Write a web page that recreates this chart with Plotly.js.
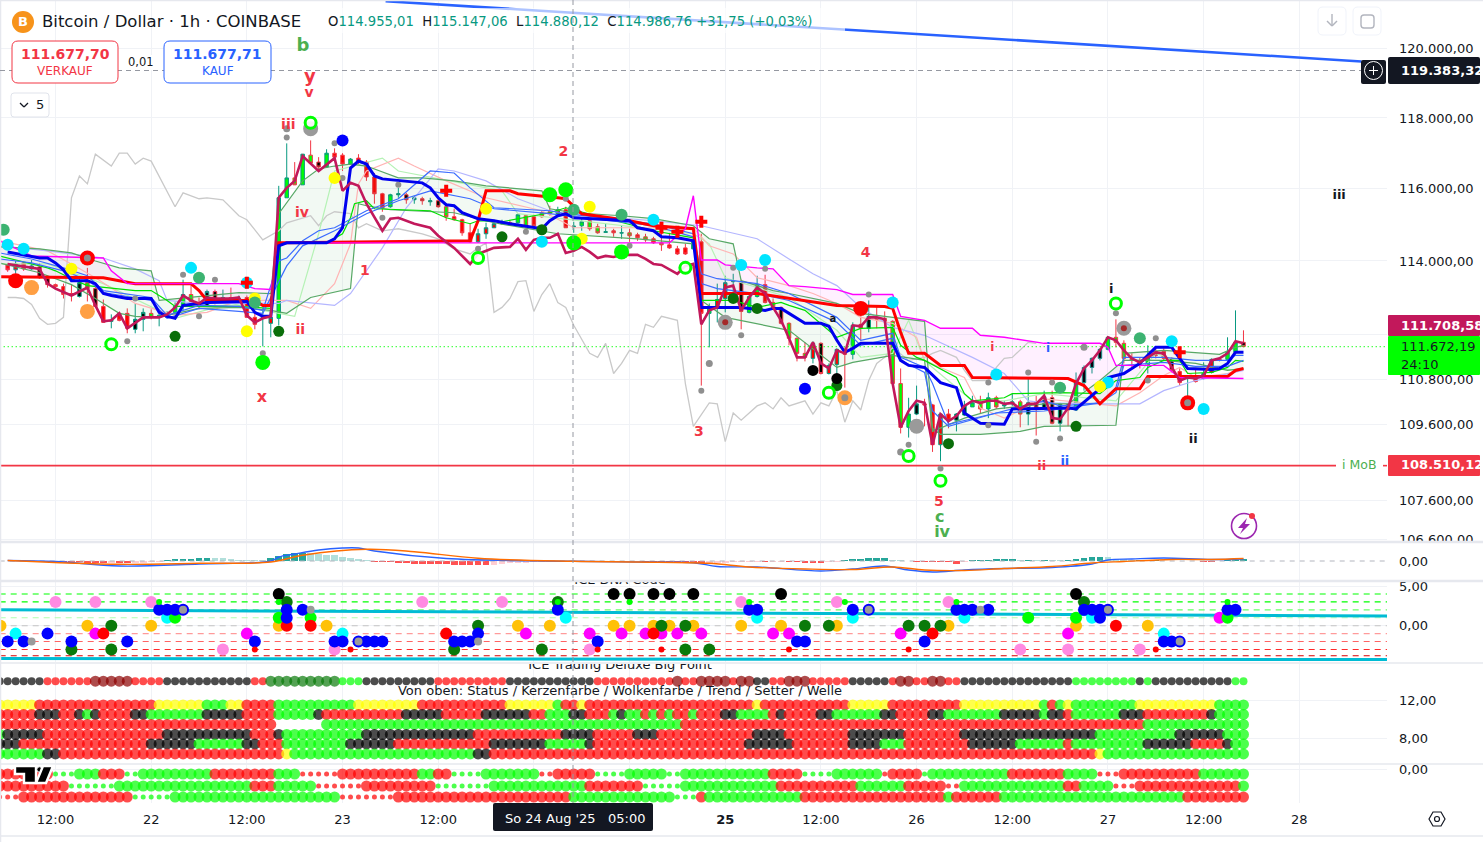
<!DOCTYPE html>
<html><head><meta charset="utf-8">
<script src="https://cdn.plot.ly/plotly-3.0.1.min.js"></script>
<style>html,body{margin:0;padding:0;background:#fff;overflow:hidden}#c{width:1483px;height:842px}</style>
</head><body><div id="c"></div>
<script>
// ---------- candles: hours since 21 Aug 00:00 (first bar = 6) ----------
const opens=[113892,113757,113946,113784,113838,113514,113352,113298,113109,113028,113406,113244,112758,112353,112569,112569,112137,112407,112569,112488,112461,112596,112785,113082,112866,112785,113163,112947,113001,112947,113001,112461,112434,112299,112434,115751,116307,116113,116947,116752,116613,117002,116947,116697,116864,116752,116335,115863,115501,115835,115835,115696,115724,115640,115668,115501,115223,115140,114778,114528,114751,114917,115029,115056,115056,115251,115223,115334,115362,115307,115418,114945,114973,115112,114945,114790,114834,114770,114778,114723,114667,114612,114500,114445,114334,114361,114334,114528,112569,112758,112974,113433,113433,112596,113028,113352,112866,112731,112299,111894,111489,111354,111759,110949,111192,111516,111462,112272,112164,112461,112434,112353,110679,109518,109869,110139,110112,109059,109869,109707,109842,110058,110166,110004,110301,110085,110139,110193,109869,110166,110031,110301,109626,110139,109977,110706,111111,111354,111597,111921,111759,111354,111300,111165,111543,111543,111354,111003,110814,110814,110814,110976,111327,111327,111516,111786];
const highs=[113946,114000,113973,114028,113946,113595,113379,113379,113352,113595,113811,113298,112947,112542,112596,112704,112839,112704,112677,112596,112623,112866,113487,113352,113001,113217,113217,113217,113271,113055,113055,112569,112704,112704,116085,117280,116752,116975,117364,116891,117114,117141,117002,116864,116975,116808,116446,115890,115863,116029,115890,115807,115779,115751,115724,115585,115446,115168,115029,114890,115056,115140,115140,115112,115307,115279,115279,115390,115529,115501,115501,115084,115195,115168,115029,115029,114890,114973,114890,114778,114751,114667,114778,114778,114417,114473,114639,114751,112839,113379,113595,113649,113487,113082,113595,113622,112974,112758,112326,111921,111786,111813,111786,111219,111624,111651,112326,112515,112920,112758,112623,112380,111084,110301,110625,110274,110139,109896,110004,109896,110220,110355,110355,110436,110355,110220,110409,110247,110814,110355,110490,110490,110166,110166,110976,111165,111381,111624,111948,112407,111840,111489,111381,111705,111624,111624,111381,111084,110841,111111,111246,111354,111381,111921,112650,112110];
const lows=[113703,113649,113730,113757,113514,113271,113244,112974,112893,113001,112893,112731,112326,112164,112353,112029,112029,112083,112407,112218,112434,112461,112650,112812,112677,112785,112812,112920,112893,112920,112461,112137,111678,111921,112245,115751,116113,116113,116724,116502,116585,116780,116502,116697,116697,116224,115585,115362,115473,115751,115585,115585,115557,115529,115473,115112,115112,114695,114500,114500,114612,114917,115001,114973,115029,114917,114945,115195,115251,115279,114917,114778,114834,114834,114751,114778,114667,114612,114528,114556,114528,114473,114278,114334,114167,114167,114334,110625,111651,112326,112596,113109,112137,112569,113001,112839,112704,112272,111705,111273,111273,111219,110922,110922,110949,110571,111327,111840,112056,112164,112164,110652,109356,109248,109842,109545,108870,108627,109491,109410,109815,110058,109896,109761,110004,110004,110085,109518,109572,109302,110004,109599,109410,109545,109950,110490,110949,111300,111570,111651,111219,111111,111084,110949,111354,111300,110976,110625,110328,110706,110787,110949,111273,111300,111489,111651];
const closes=[113757,113919,113784,113865,113541,113352,113298,113082,113055,113406,113244,112758,112326,112380,112380,112164,112407,112596,112461,112515,112596,112758,113082,112893,112785,113163,112947,113001,112947,112974,112461,112272,112461,112461,115751,116307,116113,116975,116724,116613,117002,116891,116697,116836,116752,116335,115863,115473,115835,115863,115696,115751,115668,115668,115501,115223,115140,114778,114528,114751,114917,115029,115056,115029,115279,114945,114973,115223,115307,115418,114917,114960,115084,114890,114778,114806,114778,114778,114695,114639,114584,114500,114445,114361,114195,114195,114528,112569,112731,112947,113406,113460,112623,113028,113352,112866,112731,112299,111894,111489,111381,111759,110949,111165,111597,111462,112245,112164,112488,112407,112353,110679,109518,109869,110139,110112,109059,109869,109707,109869,110085,110166,110004,110301,110058,110112,110193,109869,110166,110031,110328,109626,110139,109977,110706,111111,111354,111597,111921,111786,111354,111300,111165,111381,111435,111354,111030,110706,110841,110733,110949,111327,111300,111516,111786,111672];
const bodyFill="rrrrkkrrrkgkrgrrkkggggggkkkkkkrrrrgggggkgrrgrrrrgkkkkrkgrrrrrrkkggrgkrrggggkrrgrgrgrrrgrgrrrkggrgkgggrkrrrgkkgggggkrrrrkkgggggggkkkkkkgkkkggggggkrkrrrrrrggkrggg"; // 'g' green, 'r' red, 'k' black body

// ---------- overlay lines: hours and prices ----------
const chikouH=[6,7,8,9,10,11,12,13,14,15,16,17,19,20,21,22,23,24,27,28,30,31,33,35,36,38,40,41,44,45,46,47,49,50,51,53,55,58,60,62,64,65,66,67,68,69,70,71,72,73,74,75,76,77,79,80,81,82,83,84,85,86,87,88,90,91,92,94,95,96,97,98,100,101,102,103,104,106,107,108,109,110,111,112,113,114,115,116,117,119,121,122,123,125,126,127,129,130,131,132,134,135];
const chikouP=[113001,113001,112974,112812,112434,112272,112299,112461,115751,116363,116141,116975,116641,117002,117002,116697,116863,116780,115501,115890,115724,115751,115696,115251,115140,114584,114834,115056,115251,114973,115251,115362,115307,114917,115029,114834,114890,114751,114612,114334,114195,114361,114500,112596,112731,112974,113433,113460,112623,113082,113379,112866,112731,112245,111489,111381,111759,110949,111219,111570,111489,112272,112191,112488,112380,110679,109545,110166,110139,109140,109896,109707,110085,110166,110004,110301,110085,110220,109869,110166,110085,110490,109653,110220,109977,110760,111219,111381,111651,111300,111381,111489,111570,111381,111030,110760,110760,111111,111354,111381,111786,111759];
const crimsonH=[6,10,11,12,14,16,17,18,19,20,21,23,24,25,26,27,28,29,30,31,32,34,35,36,37,38,39,40,41,42,43,45,47,48,49,50,51,53,54,55,57,59,60,62,64,65,67,69,70,71,72,73,74,75,76,77,78,79,80,81,82,83,85,86,87,88,90,91,92,93,94,95,96,97,98,99,100,101,102,103,104,105,106,107,108,109,110,111,112,113,114,115,116,117,118,119,120,121,122,123,124,125,126,127,128,129,130,131,132,133,134,135,136,137,138,139,140,141,142,143,144,145,146,147,148,149,150,151,152,153,154,155,156,157,158,159,160,161];
const crimsonP=[113919,113784,113379,113244,113055,113271,112785,112353,112380,112569,112164,112461,112461,112461,112542,112731,113055,112920,112839,113001,112974,112974,113001,112515,112326,112434,112488,115751,116029,116224,116919,116502,116863,115946,116168,116085,115585,114834,115168,115195,115029,114917,114695,114361,113919,114195,114361,114389,114612,114306,114584,114639,114639,114751,114222,114278,114389,114250,114083,114139,114111,114167,114167,114056,113919,113892,113649,113865,113919,112272,112650,112731,113271,113325,112650,113001,113271,113109,112731,112380,111894,111381,111381,111786,111219,111084,111570,111489,112245,112218,112461,112461,112407,110679,109518,109950,110220,110166,109059,109869,109680,109815,110085,110220,110166,110220,110220,110139,110166,110004,110139,110139,110355,109761,109734,110031,110679,111084,111300,111570,111921,111840,111570,111354,111246,111381,111516,111489,111111,110760,110841,110814,110895,111300,111354,111489,111813,111759];
const thickBlueH=[6,10,11,12,13,14,16,17,18,19,21,24,25,26,27,28,31,35,36,37,38,39,40,41,46,47,48,49,50,51,52,53,58,59,60,61,62,63,65,67,69,73,74,75,76,77,84,85,87,88,90,92,93,98,101,102,103,104,106,108,109,110,111,112,113,117,118,119,121,123,125,126,128,131,132,139,140,143,144,146,148,150,152,153,154,157,158,159,160,161];
const thickBlueP=[114250,114083,114083,113946,113757,113460,113460,113379,113109,113055,112974,112974,112596,112488,112434,112785,112866,112893,112893,112596,112488,112488,114417,114500,114500,114612,114917,116585,116780,116697,116363,116280,116168,116029,115751,115557,115529,115334,115168,115112,115029,114890,115112,115251,115307,115195,115112,114917,114834,114667,114639,114556,112731,112731,112650,112704,112704,112569,112299,112299,112218,111840,111516,111624,111759,111759,111300,111165,111111,110706,110571,109896,109626,109599,110004,110031,110004,110544,110841,110949,111219,111651,111651,111354,111084,111057,111084,111219,111516,111516];
const thickRedH=[5,18,20,22,29,30,31,37,38,39,40,41,64,65,66,69,70,73,75,76,77,78,84,87,92,93,100,104,110,116,117,118,119,121,123,126,127,139,141,143,145,148,149,159,160,161];
const thickRedP=[113568,113541,113460,113379,113379,113190,112920,112920,112785,112785,114500,114500,114556,115112,115946,115946,115863,115807,115751,115724,115529,115307,115112,114973,114890,113109,113109,112974,112785,112758,112704,112056,111489,111489,111165,111165,110841,110814,110625,110139,110544,110544,110868,110868,111030,111084];
const magentaH=[5,9,18,19,21,35,37,39,40,41,89,91,92,93,95,96,100,102,104,106,110,112,117,118,121,123,127,128,131,136,143,144,145,151,153,161];
const magentaP=[114556,114139,114083,113730,113379,113379,113244,113217,114417,114500,114500,114890,115807,114028,114028,113892,113811,113784,113325,113298,113217,113082,113082,112488,112380,112164,112164,111975,111921,111759,111759,111651,111165,111165,110841,110814];
const cloudAH=[5,10,14,17,20,24,25,35,39,40,43,45,47,49,51,55,58,62,66,70,73,74,77,83,87,92,94,97,98,102,104,110,113,121,122,123,128,133,136,145,146,151,158,160,161];
const cloudAP=[114389,114334,114222,114000,113811,113730,112920,113136,113109,115307,116224,116558,116641,116697,116641,116307,116307,116224,116085,116002,115946,115446,115334,115251,115168,114973,114612,114473,113460,113190,113109,112839,112569,112353,109491,109329,109329,109410,109545,109572,111489,111570,111462,111651,111705];
const cloudBH=[5,10,14,17,20,22,24,26,30,35,39,41,44,49,50,51,54,62,67,75,85,92,93,96,104,110,112,117,121,122,126,130,136,139,143,145,146,151,155,159,161];
const cloudBP=[113946,113676,113352,112974,112569,112488,112461,112515,112704,112731,112650,112569,113001,113244,115585,115529,115418,115334,115056,114751,114612,114473,112920,112461,112110,111111,111246,111435,111300,109410,109761,110004,110139,110139,110760,111111,111300,111300,111219,111030,111084];
const brightH=[5,11,12,14,16,22,24,26,27,35,39,40,46,48,49,49.5,51,52,59,61,64,65,68,74,76,87,92,93,97,100,103,104,106,110,113,117,118,120,121,125,126,127,131,132,138,143,145,148,149,151,153,154,157,159,160,161];
const brightP=[114139,113811,113730,113514,113325,113190,113190,112920,112758,112758,112704,114500,114500,114751,115195,115585,115668,115446,115390,115195,115029,115112,115084,115334,115473,114834,114639,112920,112920,112731,112866,112785,112650,111921,112164,112191,111705,111381,111300,110841,110409,110220,110301,110409,110436,110409,110760,110841,111111,111300,111300,110949,110976,111111,111300,111273];
const blueOneH=[5,9,13,16,18,24,26,30,35,38,40,41,43,45,47,51,55,59,62,64,67,70,74,76,87,92,93,95,100,104,110,113,117,118,121,122,123,124,130,136,138,143,145,146,151,155,159,160,161];
const blueOneP=[114222,114056,113811,113595,113190,113001,112515,112785,112758,112650,114000,114083,114556,114834,114917,115390,115724,116502,116446,116029,115473,115446,115390,115307,115029,114751,113649,113514,113379,113109,112461,111840,112029,111381,111111,110679,110139,109599,109896,110220,110085,110166,110571,111381,111381,111300,111300,111435,111435];
const blueTwoH=[5,9,13,16,18,24,26,30,35,38,41,43,47,51,55,59,64,67,74,76,87,92,93,95,100,104,110,113,117,118,121,122,124,130,136,138,143,145,146,151,155,159,161];
const blueTwoP=[114056,113946,113730,113487,113136,112920,112434,112704,112623,112569,113865,114417,114834,115307,115668,115946,115724,115446,115307,115251,114973,114667,113379,113244,113109,112920,112326,111705,111894,111300,110976,109950,109545,109896,109950,110004,110166,110436,111165,111246,111138,111138,111300];
const lavenderH=[5,11,18,22,25,26,30,40,41,47,49,53,56,60,62,66,70,74,76,87,93,100,104,107,110,113,117,121,127,131,134,136,143,148,151,155,161];
const lavenderP=[114417,114278,114083,113784,113460,112920,112839,112839,112920,112785,113109,114361,115473,116558,116502,116224,115724,115390,115307,115112,114973,114612,114056,113649,113325,112731,112191,111975,111381,110949,110220,110166,110139,110139,110490,110760,111030];
const salmonH=[5,11,14,17,22,27,31,34,38,41,44,47,49,50,51,55,57,61,66,73,77,92,94,97,100,104,107,110,113,117,120,121,123,126,128,131,136,145,148,151,153,155,159,161];
const salmonP=[114556,114278,113919,113541,112839,112515,112596,112839,112920,112920,112704,113379,114473,116141,116502,116863,116641,116224,115751,115390,114917,114917,114417,114195,113541,113325,113109,112839,112461,112299,111921,111300,111111,110841,110031,109761,110274,110085,110436,110895,111111,110841,110949,111084];
const paleGreenH=[5,11,18,27,34,38,42,45,47,53,55,68,70,92,94,96,104,110,113,117,119,121,122,127,131,136,145,150,155,161];
const paleGreenP=[113919,113919,113379,112434,112839,112650,112488,114751,116502,116863,116502,115946,115307,114751,114473,113541,113001,112110,111381,111489,112380,111300,111111,110220,110220,110409,110220,111489,111111,111030];
const trendH=[53.4,175.8], trendP=[121370,119620];
const lastPrice=111672.19, mobPrice=108510.12;

// ---------- markers of the main pane ----------
const cyanH=[6,8,29,36,73,87,98,101,117,130,144,152,156];
const cyanP=[114445,114334,113811,113406,114528,115140,113892,114028,112866,110922,110706,111813,110004];
const yellowH=[14,36,37,47,66,79,78,143];
const yellowP=[113784,112083,112974,116307,115446,115501,114612,110598];
const orangeH=[9,16,111], orangeP=[113271,112623,110301];
const redDotH=[7,16,113,154], redDotP=[113460,114083,112704,110166];
const limeH=[38,74,76,77,83], limeP=[111246,115835,115974,114500,114250];
const darkGreenH=[27,40,68,73,97,100,110,124,140];
const darkGreenP=[111948,112083,114667,114862,112974,112704,110625,109086,109545];
const seaGreenH=[5.5,30,37,77,83,138,148];
const seaGreenP=[114862,113541,112866,115418,115279,110571,111894];
const blackDotH=[107,110], blackDotP=[111030,110814];
const blueDotH=[48,106], blueDotP=[117364,110544];
const ringH=[19,44,65,91,109,119,123,145];
const ringP=[111732,117864,114083,113811,110436,108762,108114,112839];
const grayH=[21,22,28,32,30,38,53,48,47,41,55,65,71,76,84,93,97,98,101,114,119,123,129,129,134,137,135,138,145,149,150];
const grayP=[111813,112974,113622,113487,112488,111489,115195,116307,117280,117447,116113,114334,114806,115724,114417,110490,113811,111975,113784,113082,109059,108438,110706,109572,110976,110706,109140,109221,112569,110760,111894];
const grayMidH=[94,118,141,41,16,154,111], grayMidP=[111219,108870,111651,117697,114083,110166,110301];
const grayBigH=[96,146,120,44], grayBigP=[112326,112164,109545,117697];
const brownH=[96,146], brownP=[112326,112164];
const plusH=[61,36,93,88,90,153], plusP=[115946,113406,115084,114917,114806,111516];

// ---------- wave labels ----------
const waveText=["b","y","v","iii","iv","ii","1","x","2","3","4","5","c","iv","i","i","ii","ii","i","ii","iii","a"];
const waveH=[43.04,43.9,43.8,41.2,42.9,42.7,50.8,37.9,75.7,92.7,113.6,122.8,122.9,123.2,129.5,136.5,135.7,138.6,144.4,154.7,173,109.5];
const waveP=[120066,119172,118685,117800,115300,112118,113698,110294,117036,109393,114220,107563,107149,106762,111633,111600,108474,108607,113206,109183,115801,112416];
const waveColor=["#4caf50","#f23645","#f23645","#f23645","#f23645","#f23645","#f23645","#f23645","#f23645","#f23645","#f23645","#f23645","#4caf50","#4caf50","#f23645","#2962ff","#f23645","#2962ff","#131722","#131722","#131722","#131722"];
const waveSize=[18,18,14,14,14,14,14,16,14,14,14,14,16,16,12,12,13,13,13,13,13,10];

// ---------- MACD pane ----------
const histValues=[10,8,5,2,-5,-10,-15,-20,-25,-25,-30,-40,-40,-38,-42,-45,-40,-30,-25,-10,30,45,45,50,55,65,60,55,35,30,25,20,15,60,100,140,160,170,165,150,130,120,85,65,45,30,-10,-20,-25,-35,-45,-50,-55,-55,-60,-65,-70,-75,-80,-85,-85,-70,-60,-45,-35,-30,-25,-20,-15,-12,-10,-8,-5,-5,-8,-10,-8,-6,-6,-8,-10,-12,-15,-15,-20,-30,-40,-50,-45,-40,-30,-25,-20,-18,-15,-15,-12,-10,-20,-25,-30,-35,-40,-25,-10,30,40,50,55,60,65,25,15,10,-10,-15,-18,-20,-25,-50,-20,15,20,25,40,42,45,20,30,15,25,20,18,25,45,60,80,90,85,50,40,20,20,15,15,10,10,8,5,-5,-10,-10,-5,15,25,35];
const macdH=[6,12,20,30,39,40,42,45,48,50,52,61,77,85,92,95,100,108,112,116,119,122,126,131,137,142,144,147,151,157,161];
const macdV=[10,-10,-100,-60,0,80,140,220,260,260,200,50,-6,-20,-34,-110,-120,-200,-160,-100,-180,-220,-180,-150,-130,-60,20,40,60,30,40];
const signalH=[6,20,30,39,43,51,57,65,77,85,94,99,106,112,117,121,126,131,137,142,146,152,157,161];
const signalV=[10,-66,-46,-20,114,234,186,54,-6,-20,-46,-120,-160,-170,-120,-180,-190,-150,-110,-40,-10,30,30,50];

// ---------- ICE DNA Code pane: hours per colour and level ----------
const dnaBlueH=[6,8,11,14,21,25,26,27,37,41,41,43,47,48,51,52,53,62,63,64,65,75,80,99,100,105,106,112,121,125,126,127,129,141,142,143,143,151,152,159,160];
const dnaBlueL=[-2,-2,-1,-2,-2,2,2,2,-2,2,1,2,-2,-2,-2,-2,-2,-2,-2,-2,-1,2,-2,2,2,-2,-2,2,-2,2,2,2,2,2,2,2,1,-2,-2,2,2];
const dnaRingH=[28,50,114,144,153], dnaRingL=[2,-2,2,2,-2];
const dnaGrayH=[9,44,65,128], dnaGrayL=[-2,2,-2,2];
const dnaGoldH=[5.1,16,24,40,46,70,74,82,84,87,89,92,98,103,110,124,140,149];
const dnaGoldL=[0,0,0,0,0,0,0,0,0,0,0,0,0,0,0,0,0,0];
const dnaPinkH=[12,17,24,33,47,58,68,79,98,110,124,133,139,148];
const dnaPinkL=[3,3,3,-3,-3,3,3,-3,3,3,3,-3,-3,-3];
const dnaMagentaH=[17,36,71,79,83,86,88,90,93,102,104,118,139,158];
const dnaMagentaL=[-1,-1,-1,-1,-1,-1,-1,-1,-1,-1,-1,-1,-1,1];
const dnaRedH=[18,41,44,61,87,122,145], dnaRedL=[-1,0,0,-1,-1,-1,0];
const dnaGreenH=[14,19,19,41,62,65,73,75,88,91,91,94,106,109,119,121,123,141];
const dnaGreenL=[-3,0,-3,3,-3,0,-3,3,0,0,-3,-3,0,0,0,0,0,3];
const dnaCyanH=[7,26,48,76,100,112,126,142,151], dnaCyanL=[-1,1,-1,1,1,1,1,1,-1];
const dnaLimeH=[27,40,44,134,140,159], dnaLimeL=[1,1,1,1,1,1];
const dnaBlackH=[40,82,84,87,89,92,103,140], dnaBlackL=[4,4,4,4,4,4,4,4];
const dnaTinyLimeH=[25,40,75,84,99,111,125,159], dnaTinyLimeL=[3,3,3,3,3,3,3,3];
const dnaTinyRedH=[37,49,80,88,104,119,150], dnaTinyRedL=[-3,-3,-3,-3,-3,-3,-3];
const dnaLevels=[4,3,2,1,0,-1,-2,-3,-3.8];
const dnaLevelColors=["#00ff00","#00ff00","#66ff66","#b0ffb0","#c4c4c4","#ff9a9a","#ff6464","#ff2a2a","#d80000"];
const dnaCyanTopH=[5,179], dnaCyanTopV=[2,1.23];
const dnaCyanLowH=[5,179], dnaCyanLowV=[-4.15,-4.28];

// ---------- Big Point rows: [colour code, last hour of the run] ----------
const rowStatus=[['k',10],['r',16],['m',21],['r',25],['k',36],['r',38],['d',47],['g',50],['k',59],['r',68],['k',79],['r',89],['m',90],['r',92],['m',96],['r',97],['m',99],['k',101],['r',103],['m',106],['r',111],['k',116],['r',117],['m',119],['r',121],['m',123],['r',125],['k',139],['g',147],['k',148],['g',149],['k',159],['g',161]];
const rowOne=[['y',9],['r',24],['y',30],['g',33],['y',35],['r',39],['g',49],['y',57],['r',68],['y',74],['g',75],['r',77],['y',78],['r',99],['y',100],['r',111],['y',116],['r',125],['y',135],['g',136],['r',137],['g',138],['y',139],['g',147],['y',157],['g',161]];
const rowTwo=[['r',9],['k',12],['r',14],['k',15],['g',16],['k',17],['r',21],['k',23],['g',30],['k',35],['r',39],['g',44],['k',45],['r',55],['k',60],['r',65],['k',71],['r',73],['g',76],['k',78],['r',81],['g',82],['k',83],['g',85],['r',86],['g',87],['r',88],['g',89],['r',91],['g',92],['r',95],['k',97],['g',101],['r',102],['k',103],['r',107],['k',109],['g',115],['k',117],['r',121],['k',123],['g',130],['k',135],['g',136],['k',138],['r',139],['g',145],['k',148],['r',156],['k',157],['g',161]];
const rowThree=[['r',39],['w',45],['g',90],['r',148],['g',161]];
const rowFour=[['g',5],['k',10],['r',25],['k',36],['r',39],['k',40],['g',50],['k',64],['r',75],['k',79],['r',84],['k',87],['r',99],['k',103],['r',111],['k',118],['r',125],['k',142],['g',152],['k',158],['g',161]];
const rowFive=[['k',7],['r',23],['k',29],['g',35],['k',37],['r',40],['g',48],['k',54],['r',66],['k',73],['g',78],['k',79],['r',98],['k',104],['r',111],['k',115],['g',118],['r',126],['k',132],['g',138],['r',139],['g',148],['k',154],['r',158],['k',159],['g',161]];
const rowSix=[['g',10],['k',12],['r',40],['y',41],['g',64],['k',66],['r',142],['y',143],['g',161]];
const rowLevels=[14,11.5,10.5,9.45,8.4,7.4,6.35];
const lowerA=[['r',11],['s',14],['g',17],['r',20],['s',22],['g',31],['r',39],['g',42],['t',47],['r',57],['g',59],['r',61],['s',65],['g',72],['t',74],['r',79],['s',83],['g',88],['s',90],['g',101],['r',105],['s',109],['g',115],['t',116],['r',120],['s',121],['g',131],['r',138],['g',142],['t',145],['r',155],['g',161]];
const lowerB=[['r',13],['s',19],['g',36],['r',39],['g',44],['t',50],['r',59],['s',66],['g',78],['r',85],['s',90],['g',102],['r',112],['g',118],['r',123],['t',125],['g',138],['r',140],['g',144],['t',147],['r',160],['g',161]];
const lowerC=[['t',7],['r',21],['s',26],['g',47],['t',54],['r',76],['g',89],['s',92],['r',93],['g',105],['r',123],['g',124],['r',130],['g',153],['r',161]];
const lowerLevels=[-0.5,-1.7,-2.8];

// ---------- axis ticks ----------
const priceTicks=[120000,118000,116000,114000,112000,110800,109600,107600,106600];
const priceTickText=["120.000,00","118.000,00","116.000,00","114.000,00","112.000,00","110.800,00","109.600,00","107.600,00","106.600,00"];
const timeTicks=[12,24,36,48,60,72,84,96,108,120,132,144,156,168];
const timeTickText=["12:00","22","12:00","23","12:00","24","12:00","<b>25</b>","12:00","26","12:00","27","12:00","28"];

// ---------- drawing helpers ----------
const W=1483,H=842,FONT='"DejaVu Sans",sans-serif',INK='#131722',GRID='#f0f2f6';
const X=p=>p/W, Y=p=>1-p/H;
const hourOf=p=>12+(p-55.5)/7.973;
const logAt=y=>Math.log10(120000)-(y-48.3)/4146.6/Math.LN10;
const traces=[];
const line=(x,y,color,width,extra={})=>traces.push(Object.assign({type:'scatter',mode:'lines',x,y,line:{color,width},hoverinfo:'skip'},extra));
const dots=(x,y,color,size,extra={},ya='y')=>traces.push(Object.assign({type:'scatter',mode:'markers',x,y,yaxis:ya,marker:{color,size,line:{width:0}},hoverinfo:'skip'},extra));
const fillBetween=(xa,ya,xb,yb,from,to,color)=>{
  const cut=(xs,ys)=>{const i=xs.map((h,k)=>k).filter(k=>xs[k]>=from&&xs[k]<=to);return [i.map(k=>xs[k]),i.map(k=>ys[k])];};
  const [x1,y1]=cut(xa,ya),[x2,y2]=cut(xb,yb);
  traces.push({type:'scatter',mode:'lines',x:x1,y:y1,line:{width:0},hoverinfo:'skip'});
  traces.push({type:'scatter',mode:'lines',x:x2,y:y2,line:{width:0},fill:'tonexty',fillcolor:color,hoverinfo:'skip'});
};

// cloud and fills
fillBetween(magentaH,magentaP,thickRedH,thickRedP,5,39,'rgba(255,0,255,0.06)');
fillBetween(magentaH,magentaP,thickRedH,thickRedP,92,161,'rgba(255,0,255,0.06)');
fillBetween(cloudAH,cloudAP,cloudBH,cloudBP,5,161,'rgba(76,175,80,0.07)');

// thin lines
line(chikouH,chikouP,'#c9c9c9',1.3);
line(paleGreenH,paleGreenP,'#b5f2b5',1.2);
line(salmonH,salmonP,'#ffb4b4',1.2);
line(lavenderH,lavenderP,'#b4b6ff',1.2);
line(cloudAH,cloudAP,'#58a866',1.2);
line(cloudBH,cloudBP,'#58a866',1.2);
line(brightH,brightP,'#00e000',1.2);
line(blueOneH,blueOneP,'#3b6cff',1.2);
line(blueTwoH,blueTwoP,'#3b6cff',1.2);
line(trendH,trendP,'#2962ff',2.6);
line([5,179],[lastPrice,lastPrice],'#00ff00',1.2,{line:{color:'#00ff00',width:1.3,dash:'1px,3px'}});
line([5,hourOf(1336)],[mobPrice,mobPrice],'#f23645',1.6);
line([hourOf(1383),179],[mobPrice,mobPrice],'#f23645',1.6);
line(thickRedH,thickRedP,'#ff0000',3);
line(magentaH,magentaP,'#ff00ff',1.4);
line(thickBlueH,thickBlueP,'#0000ee',3);
line(crimsonH,crimsonP,'#c2185b',2.6);

// candles, one trace per body colour
const barHours=opens.map((_,i)=>i+6);
for(const [code,color] of [['g','#00ff00'],['r','#ff0000'],['k','#000000']]){
  const pick=a=>a.map((v,i)=>bodyFill[i]===code?v:null);
  traces.push({type:'candlestick',x:barHours,open:pick(opens),high:pick(highs),low:pick(lows),close:pick(closes),
    increasing:{line:{color:'#089981',width:1},fillcolor:color},
    decreasing:{line:{color:'#f23645',width:1},fillcolor:color},
    hoverinfo:'skip',showlegend:false});
}

// markers
dots(grayBigH,grayBigP,'#9a9a9a',15);
dots(brownH,brownP,'#a52a2a',6);
dots(orangeH,orangeP,'#ff9f43',15);
dots(redDotH,redDotP,'#ff0000',15);
dots(grayMidH,grayMidP,'#8f8f8f',7);
dots(grayH,grayP,'#8f8f8f',6);
dots(cyanH,cyanP,'#00e5ff',12);
dots(yellowH,yellowP,'#ffff00',12);
dots(seaGreenH,seaGreenP,'#3cb371',12);
dots(darkGreenH,darkGreenP,'#0a6e0a',11);
dots(limeH,limeP,'#00ff00',15);
dots(blackDotH,blackDotP,'#000000',11);
dots(blueDotH,blueDotP,'#0000ff',12);
traces.push({type:'scatter',mode:'markers',x:ringH,y:ringP,marker:{color:'rgba(255,255,255,0.9)',size:11,line:{color:'#00ff00',width:3}},hoverinfo:'skip'});
traces.push({type:'scatter',mode:'markers',x:plusH,y:plusP,marker:{symbol:'cross',color:'#ff0000',size:10,line:{width:0}},hoverinfo:'skip'});
traces.push({type:'scatter',mode:'text',x:waveH,y:waveP,text:waveText.map(t=>'<b>'+t+'</b>'),textfont:{color:waveColor,size:waveSize,family:FONT},textposition:'middle center',hoverinfo:'skip'});

// MACD
const histColors=histValues.map((v,i)=>{const p=i?histValues[i-1]:0;return v>=0?(v>=p?'#26a69a':'#b2dfdb'):(v<=p?'#ff5252':'#ffcdd2');});
traces.push({type:'bar',x:barHours,y:histValues,yaxis:'y2',marker:{color:histColors,line:{width:0}},width:0.85,hoverinfo:'skip'});
line([5,179],[0,0],'#b2b5be',1,{yaxis:'y2',line:{color:'#b2b5be',width:1,dash:'5px,5px'}});
line(macdH,macdV,'#2962ff',1.4,{yaxis:'y2',line:{color:'#2962ff',width:1.4,shape:'spline'}});
line(signalH,signalV,'#ff6d00',1.4,{yaxis:'y2',line:{color:'#ff6d00',width:1.4,shape:'spline'}});

// DNA pane
dnaLevels.forEach((lv,i)=>line([5,179],[lv,lv],dnaLevelColors[i],1,{yaxis:'y3',line:{color:dnaLevelColors[i],width:1.1,dash:'6px,5px'}}));
line(dnaCyanTopH,dnaCyanTopV,'#00bcd4',3,{yaxis:'y3'});
line(dnaCyanLowH,dnaCyanLowV,'#00bcd4',3,{yaxis:'y3'});
dots(dnaGoldH,dnaGoldL,'#ffc107',12,{},'y3');
dots(dnaPinkH,dnaPinkL,'#ff8ae2',12,{},'y3');
dots(dnaMagentaH,dnaMagentaL,'#ff00ff',12,{},'y3');
dots(dnaGreenH,dnaGreenL,'#0a7a0a',12,{},'y3');
dots(dnaCyanH,dnaCyanL,'#00ffff',12,{},'y3');
dots(dnaLimeH,dnaLimeL,'#00ff00',12,{},'y3');
dots(dnaRedH,dnaRedL,'#ff0000',12,{},'y3');
dots(dnaBlueH,dnaBlueL,'#0000ff',12,{},'y3');
traces.push({type:'scatter',mode:'markers',x:dnaRingH,y:dnaRingL,yaxis:'y3',marker:{color:'#9a9a9a',size:10,line:{color:'#0000ff',width:2}},hoverinfo:'skip'});
dots(dnaGrayH,dnaGrayL,'#9a9a9a',8,{},'y3');
dots(dnaBlackH,dnaBlackL,'#000000',12,{},'y3');
dots(dnaTinyLimeH,dnaTinyLimeL,'#00ff00',6,{},'y3');
dots(dnaTinyRedH,dnaTinyRedL,'#ff0000',6,{},'y3');
traces.push({type:'scatter',mode:'text',x:[hourOf(620)],y:[5.65],yaxis:'y3',text:['ICE DNA Code'],textposition:'middle center',textfont:{size:13,color:INK,family:FONT},hoverinfo:'skip'});

// Big Point and lower rows
const rowColor={r:'#ff0000',g:'#00ff00',k:'#000000',y:'#ffff00',m:'#8b0000',d:'#0a7a0a',s:'#00ff00',t:'#ff0000'};
const addRow=(runs,level,ya,size,smallSize)=>{
  const xs=[],ys=[],cs=[],ss=[];let h=5;
  for(const [code,last] of runs){
    for(;h<=last;h++){ if(code==='w')continue;
      xs.push(h);ys.push(level);cs.push(rowColor[code]);
      ss.push(code==='s'||code==='t'?smallSize:(typeof size==='function'?size(code):size));}
  }
  traces.push({type:'scatter',mode:'markers',x:xs,y:ys,yaxis:ya,marker:{color:cs,size:ss,line:{width:0}},hoverinfo:'skip'});
};
addRow(rowStatus,rowLevels[0],'y4',c=>(c==='m'||c==='d')?11:8,8);
[rowOne,rowTwo,rowThree,rowFour,rowFive,rowSix].forEach((r,i)=>addRow(r,rowLevels[i+1],'y4',11,11));
[lowerA,lowerB,lowerC].forEach((r,i)=>addRow(r,lowerLevels[i],'y5',11,5));
traces.push({type:'scatter',mode:'text',x:[hourOf(620)],y:[15.65],yaxis:'y4',text:['ICE Trading Deluxe Big Point'],textposition:'middle center',textfont:{size:13,color:INK,family:FONT},hoverinfo:'skip'});
traces.push({type:'scatter',mode:'text',x:[hourOf(620)],y:[12.9],yaxis:'y4',text:['Von oben: Status / Kerzenfarbe / Wolkenfarbe / Trend / Setter / Welle'],textposition:'middle center',textfont:{size:13,color:INK,family:FONT},hoverinfo:'skip'});

// ---------- shapes ----------
const shapes=[];
const rect=(x0,y0,x1,y1,fill,stroke,r=0,lw=1)=>{
  const a=X(x0),b=X(x1),c=Y(y0),d=Y(y1),rx=r/W,ry=r/H;
  const path=r?`M${a+rx},${c} L${b-rx},${c} Q${b},${c} ${b},${c-ry} L${b},${d+ry} Q${b},${d} ${b-rx},${d} L${a+rx},${d} Q${a},${d} ${a},${d+ry} L${a},${c-ry} Q${a},${c} ${a+rx},${c} Z`
    :`M${a},${c} L${b},${c} L${b},${d} L${a},${d} Z`;
  shapes.push({type:'path',xref:'paper',yref:'paper',path,fillcolor:fill,line:{color:stroke||'rgba(0,0,0,0)',width:stroke?lw:0},layer:'above'});
};
const seg=(x0,y0,x1,y1,color,width,dash)=>shapes.push({type:'line',xref:'paper',yref:'paper',x0:X(x0),x1:X(x1),y0:Y(y0),y1:Y(y1),line:{color,width,dash},layer:'above'});
const circ=(cx,cy,r,fill,stroke,lw=1)=>shapes.push({type:'circle',xref:'paper',yref:'paper',x0:X(cx-r),x1:X(cx+r),y0:Y(cy-r),y1:Y(cy+r),fillcolor:fill,line:{color:stroke||'rgba(0,0,0,0)',width:stroke?lw:0},layer:'above'});
const poly=(pts,fill,stroke,lw=1)=>shapes.push({type:'path',xref:'paper',yref:'paper',path:'M'+pts.map(p=>X(p[0])+','+Y(p[1])).join(' L')+' Z',fillcolor:fill,line:{color:stroke||'rgba(0,0,0,0)',width:stroke?lw:0},layer:'above'});

rect(322,8,845,33,'rgba(255,255,255,0.62)');
rect(1388,541,1483,548,'#ffffff');
rect(1388,574,1483,581,'#ffffff');
rect(1388,757,1483,764,'#ffffff');
[542,581,663,764].forEach(y=>seg(0,y,1483,y,'#e6e8ee',y===764||y===663?1.4:2.4));
seg(0,836,1483,836,'#e6e8ee',1.5);
seg(0.5,0,0.5,842,'#e6e8ee',1.5);
seg(0,0.5,1483,0.5,'#e6e8ee',1.5);
seg(573,0,573,803,'#9598a1',1,'5px,4px');
seg(0,70.5,1361,70.5,'#9598a1',1,'5px,4px');
// trading buttons
rect(12,41,118,83,'#ffffff','#f23645',6);
rect(164,41,271,83,'#ffffff','#2962ff',6);
rect(120,55,162,70,'#ffffff');
rect(11,93,49,117,'#ffffff','#e0e3eb',3);
seg(20,103,24,107,INK,1.3); seg(24,107,28,103,INK,1.3);
// top icons
rect(1318,7,1346,35,'#ffffff','#f0f3fa',5);
rect(1353,7,1381,35,'#ffffff','#f0f3fa',5);
seg(1332,14,1332,26,'#b2b5be',1.4); seg(1327,21,1332,26,'#b2b5be',1.4); seg(1337,21,1332,26,'#b2b5be',1.4);
rect(1361,15,1374,28,'rgba(0,0,0,0)','#b2b5be',3,1.4);
// price tags
rect(1361,60,1386,84,INK,null,2);
circ(1373.5,70.5,9,INK,'#ffffff',1);
seg(1369,70.5,1378,70.5,'#ffffff',1); seg(1373.5,66,1373.5,75,'#ffffff',1);
rect(1388,57,1480,84,INK,null,2);
rect(1388,315,1480,336,'#c2185b',null,1);
rect(1388,336,1480,375,'#00ff00',null,1);
rect(1388,455,1480,476,'#f23645',null,1);
// cursor time box
rect(493,803,653,831,INK,null,2);
// settings icon
poly([[1429,819],[1433,812],[1441,812],[1445,819],[1441,826],[1433,826]],'#ffffff',INK,1.2);
circ(1437,819,2.5,'#ffffff',INK,1.2);
// bitcoin badge
circ(23,22,11,'#f7931a');
// lightning badge
circ(1244,526,12.5,'rgba(255,255,255,0)','#9c27b0',1.6);
poly([[1247,518],[1238,528],[1243,528],[1240,534],[1250,524],[1245,524]],'#9c27b0');
circ(1252,516,3,'#f23645');
// TradingView mark
poly([[15,766],[36,766],[36,783],[24,783],[24,774],[15,774]],'#000000','#ffffff',2.4);
circ(39.5,769.5,2.7,'#000000','#ffffff',1);
poly([[43,766],[53,766],[46,783],[36,783]],'#000000','#ffffff',2.4);

// ---------- annotations ----------
const note=(x,y,text,size,color,anchor='left',extra={})=>({xref:'paper',yref:'paper',x:X(x),y:Y(y),text,showarrow:false,xanchor:anchor,yanchor:'middle',font:{family:FONT,size,color},...extra});
const teal='#089981';
const annotations=[
 note(23,22,'<b>B</b>',13,'#ffffff','center'),
 note(40,22,'Bitcoin / Dollar · 1h · COINBASE',16.5,INK),
 note(326,22,`O<span style="color:${teal}">114.955,01</span>  H<span style="color:${teal}">115.147,06</span>  L<span style="color:${teal}">114.880,12</span>  C<span style="color:${teal}">114.986,76 +31,75 (+0,03%)</span>`,13.2,INK),
 note(65,54,'<b>111.677,70</b>',14,'#f23645','center'),
 note(65,71,'VERKAUF',12,'#f23645','center'),
 note(217.5,54,'<b>111.677,71</b>',14,'#2962ff','center'),
 note(217.5,71,'KAUF',12,'#2962ff','center'),
 note(141,62,'0,01',11.5,INK,'center'),
 note(40,105,'5',13,INK,'center'),
 note(1399,70,'<b>119.383,32</b>',13,'#ffffff'),
 note(1399,325,'<b>111.708,58</b>',13,'#ffffff'),
 note(1399,346,'111.672,19',13,INK),
 note(1399,364,'24:10',13,INK),
 note(1399,465,'<b>108.510,12</b>',13,'#ffffff'),
 note(1359,465,'i MoB',12.5,'#4caf50','center'),
 note(503,818,'So 24 Aug \'25   05:00',13,'#ffffff'),
];

// ---------- layout ----------
const dom=(a,b)=>[1-b/H,1-a/H];
const yBase={side:'right',anchor:'x',showgrid:true,gridcolor:GRID,zeroline:false,showline:false,ticks:'',tickfont:{family:FONT,size:13,color:INK},ticklabelstandoff:11,fixedrange:true};
const layout={
 width:W,height:H,margin:{l:0,r:0,t:0,b:0},paper_bgcolor:'#ffffff',plot_bgcolor:'#ffffff',showlegend:false,hovermode:false,dragmode:false,
 boxgap:0.38,bargap:0,barmode:'overlay',
 xaxis:{domain:[0,1387/W],anchor:'y5',range:[hourOf(0),hourOf(1387)],tickmode:'array',tickvals:timeTicks,ticktext:timeTickText,showgrid:true,gridcolor:GRID,zeroline:false,showline:false,ticks:'',tickfont:{family:FONT,size:13,color:INK},ticklabelstandoff:7,rangeslider:{visible:false},fixedrange:true},
 yaxis:{...yBase,domain:dom(1,541),type:'log',range:[logAt(541),logAt(1)],tickmode:'array',tickvals:priceTicks,ticktext:priceTickText},
 yaxis2:{...yBase,domain:dom(543,580),range:[-380,360],tickmode:'array',tickvals:[0],ticktext:['0,00'],showgrid:false},
 yaxis3:{...yBase,domain:dom(582,662),range:[-4.58,5.51],tickmode:'array',tickvals:[5,0],ticktext:['5,00','0,00']},
 yaxis4:{...yBase,domain:dom(664,763),range:[5.4,15.8],tickmode:'array',tickvals:[12,8],ticktext:['12,00','8,00']},
 yaxis5:{...yBase,domain:dom(765,803),range:[-3.4,0.4],tickmode:'array',tickvals:[0],ticktext:['0,00']},
 shapes,annotations
};
Plotly.newPlot('c',traces,layout,{displayModeBar:false,staticPlot:true});
</script></body></html>
